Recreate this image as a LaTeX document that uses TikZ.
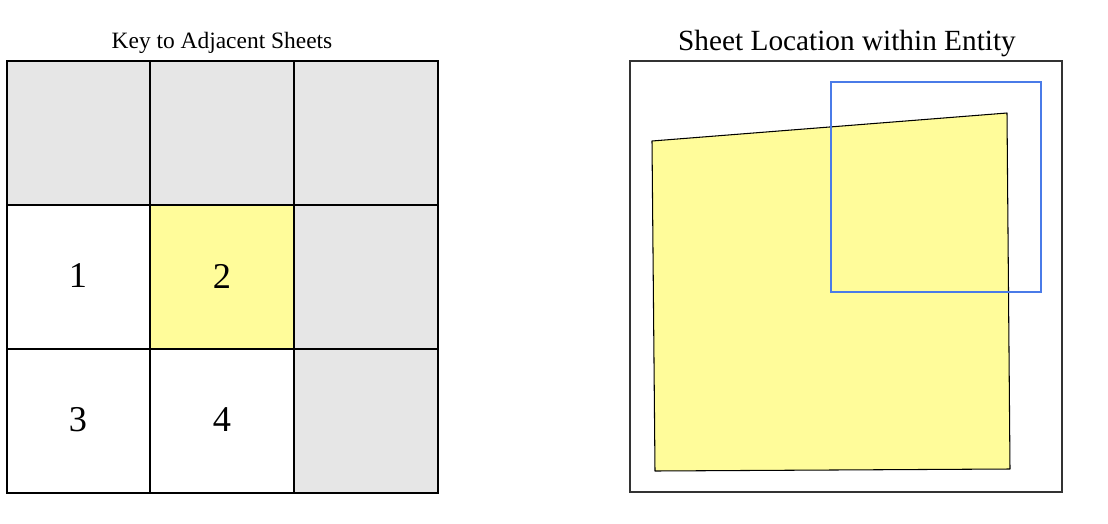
\documentclass[tikz,border=0pt]{standalone}
\usepackage{fontspec}
\setmainfont{Liberation Serif}
\definecolor{cellgray}{HTML}{E6E6E6}
\definecolor{sheetyellow}{HTML}{FFFC9A}
\definecolor{frameblue}{HTML}{4A7BE8}
\tikzset{
  gridline/.style={line width=2.2pt, draw=black, line cap=rect},
  graycell/.style={fill=cellgray},
  yellowcell/.style={fill=sheetyellow},
  cellnum/.style={font=\fontsize{31}{31}\selectfont},
  keytitle/.style={font=\fontsize{20}{20}\selectfont},
  loctitle/.style={font=\fontsize{25}{25}\selectfont},
  entityframe/.style={draw=black!80, line width=0.9pt},
  sheetpoly/.style={fill=sheetyellow, draw=black, line width=0.9pt, line join=round},
  viewframe/.style={draw=frameblue, line width=0.9pt},
}
\begin{document}
\begin{tikzpicture}[x=0.03cm, y=-0.03cm]
\useasboundingbox (0,0) rectangle (1108,523);
\fill[graycell] (7,61) rectangle (438,205);
\fill[graycell] (294,205) rectangle (438,493);
\fill[yellowcell] (150,205) rectangle (294,349);
\foreach \gx in {7,150,294,438}
  \draw[gridline] (\gx,61) -- (\gx,493);
\foreach \gy in {61,205,349,493}
  \draw[gridline] (7,\gy) -- (438,\gy);
\node[keytitle] (keytitle) at (222,43) {Key to Adjacent Sheets};
\node[cellnum] (sheet1) at (78,276) {1};
\node[cellnum] (sheet2) at (222,276) {2};
\node[cellnum] (sheet3) at (78,420) {3};
\node[cellnum] (sheet4) at (222,420) {4};
\node[loctitle] (loctitle) at (847,43) {Sheet Location within Entity};
\draw[entityframe] (630,61) rectangle (1062,492);
\draw[sheetpoly] (652,141) -- (1007,113) -- (1010,469) -- (655,471) -- cycle;
\draw[viewframe] (831,82) rectangle (1041,292);
\end{tikzpicture}
\end{document}
